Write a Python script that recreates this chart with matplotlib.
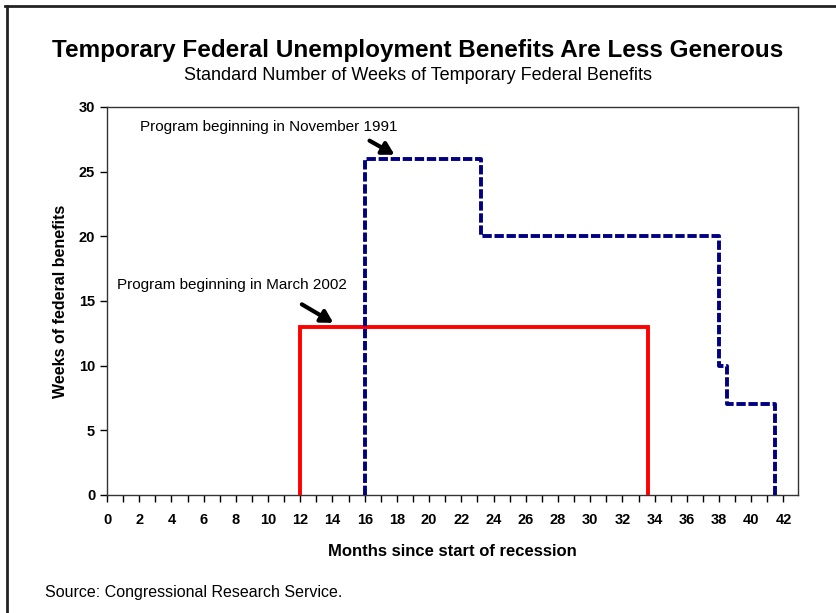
import matplotlib.pyplot as plt
import numpy as np
from matplotlib.lines import Line2D

plt.rcParams['font.family'] = ['Liberation Sans', 'DejaVu Sans']

# program starting Nov 1991 (months since start of recession, weeks)
nov91_months = [16, 16, 23.2, 23.2, 38, 38, 38.5, 38.5, 41.5, 41.5]
nov91_weeks = [0, 26, 26, 20, 20, 10, 10, 7, 7, 0]

# program starting March 2002
mar02_months = [12, 12, 33.6, 33.6]
mar02_weeks = [0, 13, 13, 0]

xticks = np.arange(0, 43, 2)
yticks = np.arange(0, 31, 5)

fig = plt.figure(figsize=(8.36, 6.13), dpi=100)
ax = fig.add_axes([0.128, 0.1925, 0.8265, 0.633])

ax.plot(mar02_months, mar02_weeks, color='#ff0000', lw=2.8, solid_joinstyle='miter', zorder=3)
ax.plot(nov91_months, nov91_weeks, color='#000080', lw=2.8, ls=(0, (2.4, 0.7)), zorder=3)

ax.set_xlim(0, 42.9)
ax.set_ylim(0, 30)
ax.set_xticks(xticks)
ax.set_xticks(np.arange(0, 43, 1), minor=True)
ax.set_yticks(yticks)
ax.tick_params(axis='both', which='both', direction='out', length=5, width=1, colors='black')
ax.tick_params(axis='x', which='both', pad=8)
for lab in ax.get_xticklabels() + ax.get_yticklabels():
    lab.set_fontweight('bold')
    lab.set_fontsize(10.5)
for s in ax.spines.values():
    s.set_color('#333333')
    s.set_linewidth(1)

ax.set_xlabel('Months since start of recession', fontweight='bold', fontsize=12, labelpad=12)
ax.set_ylabel('Weeks of federal benefits', fontweight='bold', fontsize=11.5, labelpad=8)

ax.text(2.05, 28.45, 'Program beginning in November 1991', fontsize=11, va='center', ha='left')
ax.text(0.62, 16.25, 'Program beginning in March 2002', fontsize=11, va='center', ha='left')
ax.annotate('', xy=(18.0, 26.2), xytext=(16.15, 27.5),
            arrowprops=dict(arrowstyle='-|>,head_length=0.7,head_width=0.4', color='black', lw=3))
ax.annotate('', xy=(14.2, 13.2), xytext=(11.95, 14.85),
            arrowprops=dict(arrowstyle='-|>,head_length=0.7,head_width=0.4', color='black', lw=3))

fig.text(0.5, 0.918, 'Temporary Federal Unemployment Benefits Are Less Generous',
         ha='center', va='center', fontsize=17.5, fontweight='bold')
fig.text(0.5, 0.877, 'Standard Number of Weeks of Temporary Federal Benefits',
         ha='center', va='center', fontsize=13)
fig.text(0.054, 0.034, 'Source: Congressional Research Service.', ha='left', va='center', fontsize=11.5)

# outer frame (top and left edges as in the screenshot)
fig.add_artist(Line2D([0.006, 1.0], [0.99, 0.99], transform=fig.transFigure, color='#222222', lw=2))
fig.add_artist(Line2D([0.008, 0.008], [0.0, 0.99], transform=fig.transFigure, color='#222222', lw=2))

fig.savefig('out.png', dpi=100)
